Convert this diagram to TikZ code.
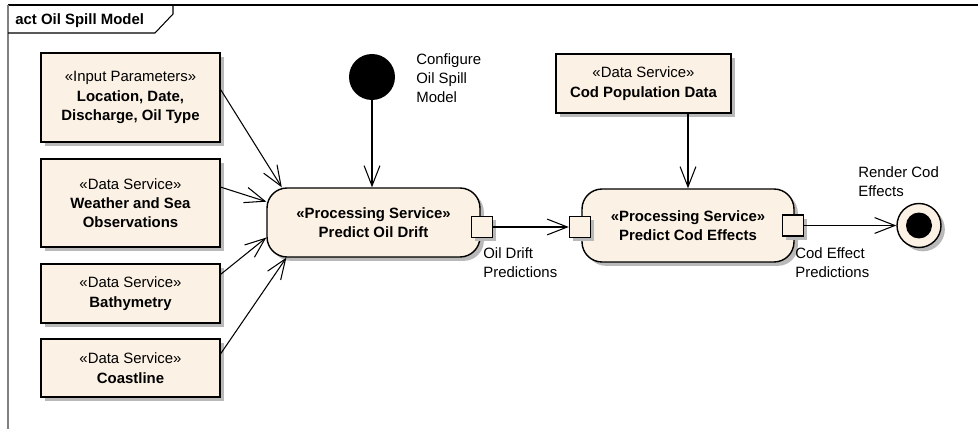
\documentclass[tikz,border=0pt]{standalone}
\usepackage{fontspec}
\setmainfont{Liberation Sans}
\usetikzlibrary{arrows.meta,shadows}

\definecolor{actfill}{RGB}{251,241,228}
\definecolor{shadegray}{RGB}{185,185,185}

\begin{document}
\begin{tikzpicture}[x=0.02cm, y=-0.02cm,
    every node/.style={font=\fontsize{8.5}{11}\selectfont},
    shadowed/.style={drop shadow={shadow xshift=2.2pt, shadow yshift=-2.2pt, fill=shadegray, opacity=1}},
    servicebox/.style={draw, line width=0.8pt, fill=actfill, align=center, inner sep=0pt, minimum width=3.58cm, shadowed},
    activity/.style={draw, line width=0.8pt, fill=actfill, align=center, rounded corners=0.4cm, shadowed, font=\fontsize{8.5}{11}\selectfont\bfseries},
    portbox/.style={draw, line width=0.8pt, fill=actfill, minimum size=0.42cm, inner sep=0pt, shadowed},
    tagtext/.style={anchor=north west, align=left, inner sep=0pt},
    flow/.style={line width=0.6pt, -{Straight Barb[length=11.5pt, width=9pt]}}]
    \useasboundingbox (0,0) rectangle (978,429);

    \draw[line width=0.6pt] (8,5)--(978,5);
    \draw[line width=0.6pt, gray] (8,5)--(8,429);
    \draw[line width=0.6pt] (8,33)--(155,33)--(173,14)--(173,5);
    \node[anchor=base west, inner sep=0pt, font=\fontsize{8.5}{11}\selectfont\bfseries] (title) at (15,25){act Oil Spill Model};

    \node[servicebox, minimum height=1.78cm] (inp) at (130.5, 97.5){«Input Parameters»\\\textbf{Location, Date,}\\\textbf{Discharge, Oil Type}};
    \node[servicebox, minimum height=1.76cm] (wea) at (130.5, 203){«Data Service»\\\textbf{Weather and Sea}\\\textbf{Observations}};
    \node[servicebox, minimum height=1.18cm] (bat) at (130.5, 293.5){«Data Service»\\\textbf{Bathymetry}};
    \node[servicebox, minimum height=1.16cm] (coa) at (130.5, 368){«Data Service»\\\textbf{Coastline}};
    \node[servicebox, minimum width=3.5cm, minimum height=1.18cm] (cod) at (643.5, 83.5){«Data Service»\\\textbf{Cod Population Data}};

    \node[activity, minimum width=4.26cm, minimum height=1.38cm] (drift) at (373.5, 222.5){«Processing Service»\\Predict Oil Drift};
    \node[activity, minimum width=4.24cm, minimum height=1.46cm] (effect) at (688, 225.5){«Processing Service»\\Predict Cod Effects};

    \node[portbox] (driftout) at (482, 227){};
    \node[portbox] (effectin) at (580, 227){};
    \node[portbox] (effectout) at (793, 225.5){};

    \node[circle, fill=black, minimum size=0.92cm, inner sep=0pt] (init) at (372, 77){};
    \node[circle, draw, line width=0.8pt, fill=actfill, minimum size=0.88cm, inner sep=0pt, shadowed] (final) at (919, 225.5){};
    \node[circle, fill=black, minimum size=0.52cm, inner sep=0pt] (finalcore) at (final){};

    \node[tagtext] (initlabel) at (416, 53){Configure\\Oil Spill\\Model};
    \node[tagtext] (driftlabel) at (483, 247){Oil Drift\\Predictions};
    \node[tagtext] (effectlabel) at (795, 247){Cod Effect\\Predictions};
    \node[tagtext] (finallabel) at (858, 166){Render Cod\\Effects};

    \draw[flow] (inp.5)--(drift.159);
    \draw[flow] (wea.10)--(drift.169);
    \draw[flow] (bat.12)--(drift.188);
    \draw[flow] (coa.9)--(drift.202);
    \draw[flow] (init)--(init |- drift.north);
    \draw[flow] (driftout)--(effectin);
    \draw[flow] (cod.south -| effect.north)--(effect.north);
    \draw[flow] (effectout)--(final);

  \end{tikzpicture}
\end{document}
